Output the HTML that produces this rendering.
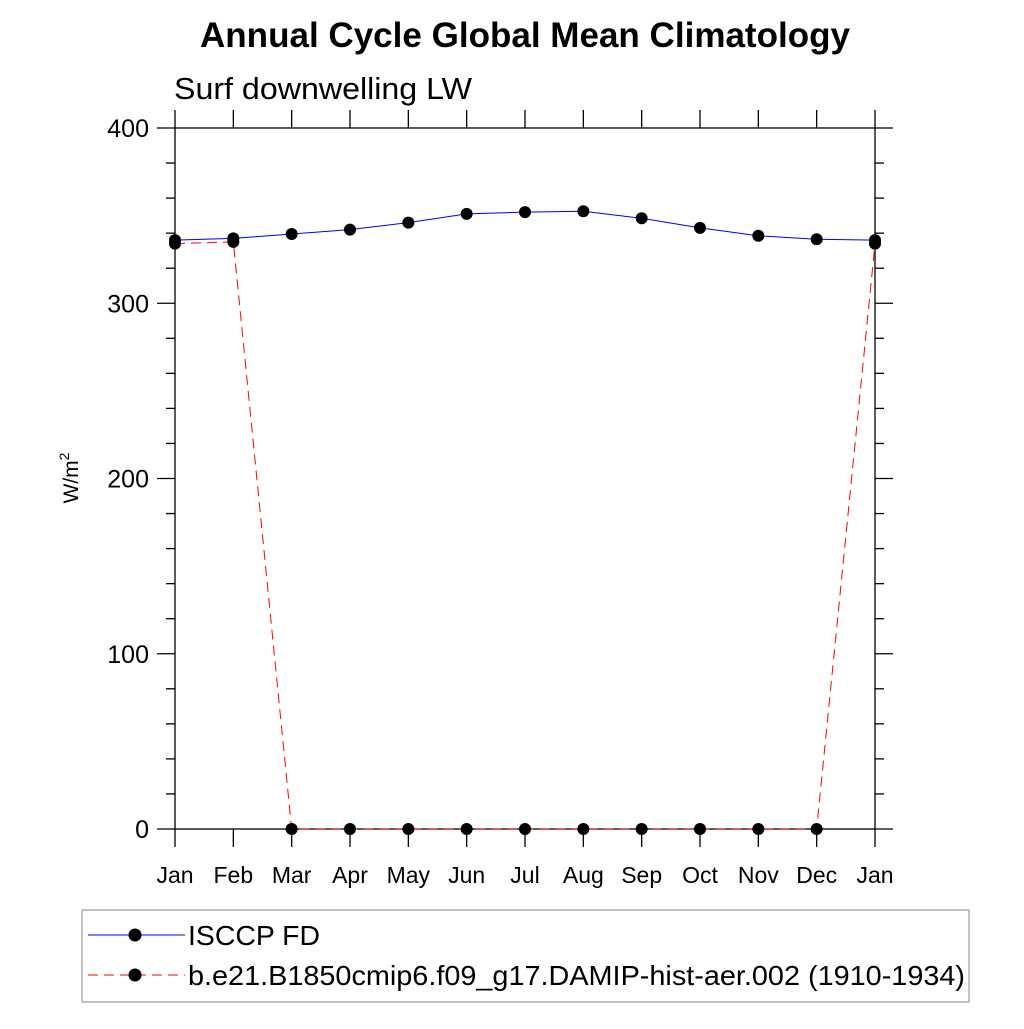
<!DOCTYPE html>
<html><head><meta charset="utf-8"><style>
body{margin:0;background:#fff;font-family:"Liberation Sans",sans-serif}
</style></head><body>
<svg width="1024" height="1024" xmlns="http://www.w3.org/2000/svg" font-family="Liberation Sans, sans-serif">
<text x="525" y="47" text-anchor="middle" font-size="35" font-weight="bold" textLength="650" lengthAdjust="spacingAndGlyphs">Annual Cycle Global Mean Climatology</text>
<text x="174" y="99" font-size="31" textLength="298" lengthAdjust="spacingAndGlyphs">Surf downwelling LW</text>
<text transform="translate(78,478) rotate(-90)" text-anchor="middle" font-size="21">W/m<tspan dy="-9" font-size="14">2</tspan></text>
<g id="axes"></g>
<g id="series"></g>
<g>
<rect x="82" y="910" width="887" height="92" fill="none" stroke="#888" stroke-width="1"/>
<line x1="88" y1="935" x2="185" y2="935" stroke="#00f" stroke-width="1"/>
<circle cx="135" cy="935" r="6.5" fill="#000"/>
<text x="188" y="945" font-size="28" textLength="132" lengthAdjust="spacingAndGlyphs">ISCCP FD</text>
<line x1="88" y1="975" x2="185" y2="975" stroke="#f00" stroke-width="1" stroke-dasharray="10,6"/>
<circle cx="135" cy="975" r="6.5" fill="#000"/>
<text x="188" y="985" font-size="28" textLength="777" lengthAdjust="spacingAndGlyphs">b.e21.B1850cmip6.f09_g17.DAMIP-hist-aer.002 (1910-1934)</text>
</g>
</svg>
<script>
const months=["Jan","Feb","Mar","Apr","May","Jun","Jul","Aug","Sep","Oct","Nov","Dec","Jan"];
const isccp=[336,337,339.5,342,346,351,352,352.5,348.5,343,338.5,336.5,336];
const model=[334,335,0,0,0,0,0,0,0,0,0,0,334];
const yTicks=[0,100,200,300,400];
const NS="http://www.w3.org/2000/svg";
const X0=175,X1=875,Y0=829,Y1=128;
const xs=i=>X0+(X1-X0)*i/(months.length-1);
const ys=v=>Y0-(Y0-Y1)*v/400;
function mk(t,a,p){const e=document.createElementNS(NS,t);for(const k in a)e.setAttribute(k,a[k]);p.appendChild(e);return e;}
const ax=document.getElementById('axes');
mk('rect',{x:X0,y:Y1,width:X1-X0,height:Y0-Y1,fill:'none',stroke:'#000','stroke-width':1.3},ax);
months.forEach((m,i)=>{const x=xs(i);
mk('line',{x1:x,y1:Y1-18,x2:x,y2:Y1,stroke:'#000','stroke-width':1.3},ax);
mk('line',{x1:x,y1:Y0,x2:x,y2:Y0+18,stroke:'#000','stroke-width':1.3},ax);
const t=mk('text',{x:x,y:883,'text-anchor':'middle','font-size':23},ax);t.textContent=m;

});
for(let v=0;v<=400;v+=20){const y=ys(v);const maj=v%100===0;const L=maj?18:9;
mk('line',{x1:X0-L,y1:y,x2:X0,y2:y,stroke:'#000','stroke-width':1.3},ax);
mk('line',{x1:X1,y1:y,x2:X1+L,y2:y,stroke:'#000','stroke-width':1.3},ax);}
yTicks.forEach(v=>{const t=mk('text',{x:149,y:ys(v)+9,'text-anchor':'end','font-size':25},ax);t.textContent=v;

});
const sg=document.getElementById('series');
function series(d,col,dash,name){
const pl=mk('polyline',{points:d.map((v,i)=>xs(i)+','+ys(v)).join(' '),fill:'none',stroke:col,'stroke-width':1,'stroke-dasharray':dash},sg);


d.forEach((v,i)=>{const c=mk('circle',{cx:xs(i),cy:ys(v),r:6,fill:'#000'},sg);

});}
series(model,'#f00','10,6','model');
series(isccp,'#00f','none','isccp');
</script>
</body></html>
